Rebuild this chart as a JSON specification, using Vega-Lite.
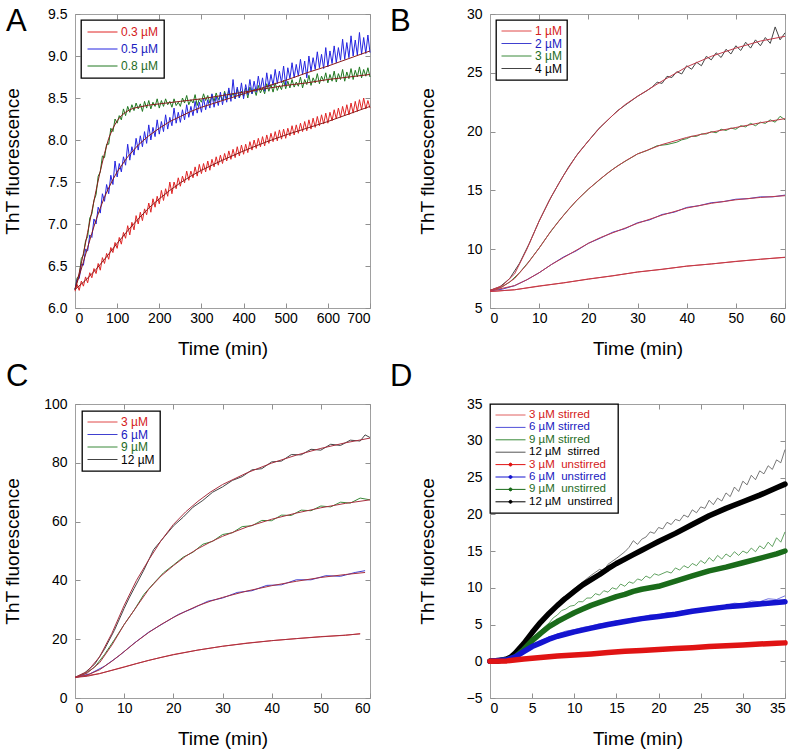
{
"$schema":"https://vega.github.io/schema/vega-lite/v6.json",
"background":"white",
"padding":{"left":2,"top":5,"right":5,"bottom":2},
"columns":2,
"spacing":{"row":1,"column":16},
"datasets":{
"a":[
{"t":0,"v":6.22,"s":"g"},{"t":5,"v":6.36,"s":"g"},{"t":10,"v":6.38,"s":"g"},{"t":15,"v":6.59,"s":"g"},{"t":20,"v":6.63,"s":"g"},{"t":25,"v":6.8,"s":"g"},{"t":30,"v":6.85,"s":"g"},{"t":35,"v":7.07,"s":"g"},{"t":40,"v":7.12,"s":"g"},{"t":45,"v":7.28,"s":"g"},{"t":50,"v":7.35,"s":"g"},{"t":55,"v":7.57,"s":"g"},{"t":60,"v":7.62,"s":"g"},{"t":65,"v":7.81,"s":"g"},{"t":70,"v":7.79,"s":"g"},{"t":75,"v":7.95,"s":"g"},{"t":80,"v":7.95,"s":"g"},{"t":85,"v":8.14,"s":"g"},{"t":90,"v":8.1,"s":"g"},{"t":95,"v":8.25,"s":"g"},{"t":100,"v":8.2,"s":"g"},{"t":105,"v":8.29,"s":"g"},{"t":110,"v":8.24,"s":"g"},{"t":115,"v":8.37,"s":"g"},{"t":120,"v":8.29,"s":"g"},{"t":125,"v":8.4,"s":"g"},{"t":130,"v":8.33,"s":"g"},{"t":135,"v":8.42,"s":"g"},{"t":140,"v":8.35,"s":"g"},{"t":145,"v":8.44,"s":"g"},{"t":150,"v":8.37,"s":"g"},{"t":155,"v":8.43,"s":"g"},{"t":160,"v":8.34,"s":"g"},{"t":165,"v":8.46,"s":"g"},{"t":170,"v":8.38,"s":"g"},{"t":175,"v":8.47,"s":"g"},{"t":180,"v":8.37,"s":"g"},{"t":185,"v":8.45,"s":"g"},{"t":190,"v":8.4,"s":"g"},{"t":195,"v":8.49,"s":"g"},{"t":200,"v":8.38,"s":"g"},{"t":205,"v":8.47,"s":"g"},{"t":210,"v":8.4,"s":"g"},{"t":215,"v":8.49,"s":"g"},{"t":220,"v":8.42,"s":"g"},{"t":225,"v":8.46,"s":"g"},{"t":230,"v":8.39,"s":"g"},{"t":235,"v":8.49,"s":"g"},{"t":240,"v":8.41,"s":"g"},{"t":245,"v":8.45,"s":"g"},{"t":250,"v":8.4,"s":"g"},{"t":255,"v":8.5,"s":"g"},{"t":260,"v":8.44,"s":"g"},{"t":265,"v":8.53,"s":"g"},{"t":270,"v":8.42,"s":"g"},{"t":275,"v":8.48,"s":"g"},{"t":280,"v":8.44,"s":"g"},{"t":285,"v":8.54,"s":"g"},{"t":290,"v":8.41,"s":"g"},{"t":295,"v":8.49,"s":"g"},{"t":300,"v":8.45,"s":"g"},{"t":305,"v":8.55,"s":"g"},{"t":310,"v":8.47,"s":"g"},{"t":315,"v":8.53,"s":"g"},{"t":320,"v":8.44,"s":"g"},{"t":325,"v":8.54,"s":"g"},{"t":330,"v":8.46,"s":"g"},{"t":335,"v":8.56,"s":"g"},{"t":340,"v":8.48,"s":"g"},{"t":345,"v":8.53,"s":"g"},{"t":350,"v":8.47,"s":"g"},{"t":355,"v":8.58,"s":"g"},{"t":360,"v":8.49,"s":"g"},{"t":365,"v":8.59,"s":"g"},{"t":370,"v":8.51,"s":"g"},{"t":375,"v":8.56,"s":"g"},{"t":380,"v":8.49,"s":"g"},{"t":385,"v":8.61,"s":"g"},{"t":390,"v":8.5,"s":"g"},{"t":395,"v":8.58,"s":"g"},{"t":400,"v":8.52,"s":"g"},{"t":405,"v":8.62,"s":"g"},{"t":410,"v":8.5,"s":"g"},{"t":415,"v":8.63,"s":"g"},{"t":420,"v":8.55,"s":"g"},{"t":425,"v":8.61,"s":"g"},{"t":430,"v":8.53,"s":"g"},{"t":435,"v":8.65,"s":"g"},{"t":440,"v":8.56,"s":"g"},{"t":445,"v":8.62,"s":"g"},{"t":450,"v":8.55,"s":"g"},{"t":455,"v":8.67,"s":"g"},{"t":460,"v":8.58,"s":"g"},{"t":465,"v":8.66,"s":"g"},{"t":470,"v":8.57,"s":"g"},{"t":475,"v":8.68,"s":"g"},{"t":480,"v":8.59,"s":"g"},{"t":485,"v":8.65,"s":"g"},{"t":490,"v":8.6,"s":"g"},{"t":495,"v":8.71,"s":"g"},{"t":500,"v":8.61,"s":"g"},{"t":505,"v":8.7,"s":"g"},{"t":510,"v":8.62,"s":"g"},{"t":515,"v":8.72,"s":"g"},{"t":520,"v":8.63,"s":"g"},{"t":525,"v":8.69,"s":"g"},{"t":530,"v":8.64,"s":"g"},{"t":535,"v":8.75,"s":"g"},{"t":540,"v":8.62,"s":"g"},{"t":545,"v":8.72,"s":"g"},{"t":550,"v":8.66,"s":"g"},{"t":555,"v":8.77,"s":"g"},{"t":560,"v":8.65,"s":"g"},{"t":565,"v":8.74,"s":"g"},{"t":570,"v":8.68,"s":"g"},{"t":575,"v":8.79,"s":"g"},{"t":580,"v":8.67,"s":"g"},{"t":585,"v":8.76,"s":"g"},{"t":590,"v":8.7,"s":"g"},{"t":595,"v":8.8,"s":"g"},{"t":600,"v":8.68,"s":"g"},{"t":605,"v":8.78,"s":"g"},{"t":610,"v":8.7,"s":"g"},{"t":615,"v":8.82,"s":"g"},{"t":620,"v":8.69,"s":"g"},{"t":625,"v":8.79,"s":"g"},{"t":630,"v":8.72,"s":"g"},{"t":635,"v":8.84,"s":"g"},{"t":640,"v":8.7,"s":"g"},{"t":645,"v":8.81,"s":"g"},{"t":650,"v":8.73,"s":"g"},{"t":655,"v":8.85,"s":"g"},{"t":660,"v":8.72,"s":"g"},{"t":665,"v":8.83,"s":"g"},{"t":670,"v":8.75,"s":"g"},{"t":675,"v":8.87,"s":"g"},{"t":680,"v":8.74,"s":"g"},{"t":685,"v":8.84,"s":"g"},{"t":690,"v":8.76,"s":"g"},{"t":695,"v":8.86,"s":"g"},{"t":700,"v":8.75,"s":"g"},
{"t":0,"v":6.22,"s":"b"},{"t":5,"v":6.34,"s":"b"},{"t":10,"v":6.35,"s":"b"},{"t":15,"v":6.52,"s":"b"},{"t":20,"v":6.51,"s":"b"},{"t":25,"v":6.7,"s":"b"},{"t":30,"v":6.68,"s":"b"},{"t":35,"v":6.87,"s":"b"},{"t":40,"v":6.84,"s":"b"},{"t":45,"v":7.06,"s":"b"},{"t":50,"v":7.0,"s":"b"},{"t":55,"v":7.2,"s":"b"},{"t":60,"v":7.13,"s":"b"},{"t":65,"v":7.36,"s":"b"},{"t":70,"v":7.27,"s":"b"},{"t":75,"v":7.47,"s":"b"},{"t":80,"v":7.36,"s":"b"},{"t":85,"v":7.58,"s":"b"},{"t":90,"v":7.47,"s":"b"},{"t":95,"v":7.75,"s":"b"},{"t":100,"v":7.56,"s":"b"},{"t":105,"v":7.72,"s":"b"},{"t":110,"v":7.62,"s":"b"},{"t":115,"v":7.8,"s":"b"},{"t":120,"v":7.7,"s":"b"},{"t":125,"v":7.95,"s":"b"},{"t":130,"v":7.76,"s":"b"},{"t":135,"v":7.92,"s":"b"},{"t":140,"v":7.82,"s":"b"},{"t":145,"v":8.02,"s":"b"},{"t":150,"v":7.88,"s":"b"},{"t":155,"v":8.05,"s":"b"},{"t":160,"v":7.92,"s":"b"},{"t":165,"v":8.1,"s":"b"},{"t":170,"v":7.96,"s":"b"},{"t":175,"v":8.18,"s":"b"},{"t":180,"v":8.0,"s":"b"},{"t":185,"v":8.15,"s":"b"},{"t":190,"v":8.04,"s":"b"},{"t":195,"v":8.24,"s":"b"},{"t":200,"v":8.07,"s":"b"},{"t":205,"v":8.22,"s":"b"},{"t":210,"v":8.1,"s":"b"},{"t":215,"v":8.3,"s":"b"},{"t":220,"v":8.13,"s":"b"},{"t":225,"v":8.27,"s":"b"},{"t":230,"v":8.17,"s":"b"},{"t":235,"v":8.38,"s":"b"},{"t":240,"v":8.2,"s":"b"},{"t":245,"v":8.33,"s":"b"},{"t":250,"v":8.21,"s":"b"},{"t":255,"v":8.36,"s":"b"},{"t":260,"v":8.24,"s":"b"},{"t":265,"v":8.42,"s":"b"},{"t":270,"v":8.27,"s":"b"},{"t":275,"v":8.4,"s":"b"},{"t":280,"v":8.29,"s":"b"},{"t":285,"v":8.46,"s":"b"},{"t":290,"v":8.32,"s":"b"},{"t":295,"v":8.45,"s":"b"},{"t":300,"v":8.33,"s":"b"},{"t":305,"v":8.5,"s":"b"},{"t":310,"v":8.36,"s":"b"},{"t":315,"v":8.48,"s":"b"},{"t":320,"v":8.38,"s":"b"},{"t":325,"v":8.55,"s":"b"},{"t":330,"v":8.39,"s":"b"},{"t":335,"v":8.52,"s":"b"},{"t":340,"v":8.41,"s":"b"},{"t":345,"v":8.57,"s":"b"},{"t":350,"v":8.42,"s":"b"},{"t":355,"v":8.56,"s":"b"},{"t":360,"v":8.45,"s":"b"},{"t":365,"v":8.62,"s":"b"},{"t":370,"v":8.46,"s":"b"},{"t":375,"v":8.72,"s":"b"},{"t":380,"v":8.49,"s":"b"},{"t":385,"v":8.63,"s":"b"},{"t":390,"v":8.5,"s":"b"},{"t":395,"v":8.68,"s":"b"},{"t":400,"v":8.49,"s":"b"},{"t":405,"v":8.66,"s":"b"},{"t":410,"v":8.54,"s":"b"},{"t":415,"v":8.72,"s":"b"},{"t":420,"v":8.55,"s":"b"},{"t":425,"v":8.7,"s":"b"},{"t":430,"v":8.57,"s":"b"},{"t":435,"v":8.76,"s":"b"},{"t":440,"v":8.6,"s":"b"},{"t":445,"v":8.74,"s":"b"},{"t":450,"v":8.58,"s":"b"},{"t":455,"v":8.8,"s":"b"},{"t":460,"v":8.63,"s":"b"},{"t":465,"v":8.78,"s":"b"},{"t":470,"v":8.65,"s":"b"},{"t":475,"v":8.84,"s":"b"},{"t":480,"v":8.67,"s":"b"},{"t":485,"v":8.82,"s":"b"},{"t":490,"v":8.68,"s":"b"},{"t":495,"v":8.88,"s":"b"},{"t":500,"v":8.65,"s":"b"},{"t":505,"v":8.86,"s":"b"},{"t":510,"v":8.73,"s":"b"},{"t":515,"v":8.92,"s":"b"},{"t":520,"v":8.74,"s":"b"},{"t":525,"v":8.9,"s":"b"},{"t":530,"v":8.76,"s":"b"},{"t":535,"v":8.96,"s":"b"},{"t":540,"v":8.78,"s":"b"},{"t":545,"v":8.94,"s":"b"},{"t":550,"v":8.74,"s":"b"},{"t":555,"v":9.0,"s":"b"},{"t":560,"v":8.82,"s":"b"},{"t":565,"v":8.98,"s":"b"},{"t":570,"v":8.84,"s":"b"},{"t":575,"v":9.05,"s":"b"},{"t":580,"v":8.86,"s":"b"},{"t":585,"v":9.02,"s":"b"},{"t":590,"v":8.85,"s":"b"},{"t":595,"v":9.1,"s":"b"},{"t":600,"v":8.87,"s":"b"},{"t":605,"v":9.06,"s":"b"},{"t":610,"v":8.91,"s":"b"},{"t":615,"v":9.12,"s":"b"},{"t":620,"v":8.92,"s":"b"},{"t":625,"v":9.1,"s":"b"},{"t":630,"v":8.95,"s":"b"},{"t":635,"v":9.2,"s":"b"},{"t":640,"v":8.96,"s":"b"},{"t":645,"v":9.16,"s":"b"},{"t":650,"v":8.98,"s":"b"},{"t":655,"v":9.24,"s":"b"},{"t":660,"v":9.0,"s":"b"},{"t":665,"v":9.19,"s":"b"},{"t":670,"v":9.01,"s":"b"},{"t":675,"v":9.28,"s":"b"},{"t":680,"v":9.02,"s":"b"},{"t":685,"v":9.22,"s":"b"},{"t":690,"v":9.03,"s":"b"},{"t":695,"v":9.25,"s":"b"},{"t":700,"v":9.04,"s":"b"},
{"t":0,"v":6.2,"s":"r"},{"t":5,"v":6.28,"s":"r"},{"t":10,"v":6.21,"s":"r"},{"t":15,"v":6.32,"s":"r"},{"t":20,"v":6.26,"s":"r"},{"t":25,"v":6.37,"s":"r"},{"t":30,"v":6.3,"s":"r"},{"t":35,"v":6.42,"s":"r"},{"t":40,"v":6.36,"s":"r"},{"t":45,"v":6.47,"s":"r"},{"t":50,"v":6.41,"s":"r"},{"t":55,"v":6.53,"s":"r"},{"t":60,"v":6.45,"s":"r"},{"t":65,"v":6.6,"s":"r"},{"t":70,"v":6.53,"s":"r"},{"t":75,"v":6.65,"s":"r"},{"t":80,"v":6.58,"s":"r"},{"t":85,"v":6.72,"s":"r"},{"t":90,"v":6.66,"s":"r"},{"t":95,"v":6.78,"s":"r"},{"t":100,"v":6.71,"s":"r"},{"t":105,"v":6.84,"s":"r"},{"t":110,"v":6.76,"s":"r"},{"t":115,"v":6.9,"s":"r"},{"t":120,"v":6.83,"s":"r"},{"t":125,"v":6.98,"s":"r"},{"t":130,"v":6.87,"s":"r"},{"t":135,"v":7.02,"s":"r"},{"t":140,"v":6.93,"s":"r"},{"t":145,"v":7.1,"s":"r"},{"t":150,"v":7.0,"s":"r"},{"t":155,"v":7.14,"s":"r"},{"t":160,"v":7.04,"s":"r"},{"t":165,"v":7.18,"s":"r"},{"t":170,"v":7.11,"s":"r"},{"t":175,"v":7.25,"s":"r"},{"t":180,"v":7.14,"s":"r"},{"t":185,"v":7.3,"s":"r"},{"t":190,"v":7.2,"s":"r"},{"t":195,"v":7.33,"s":"r"},{"t":200,"v":7.24,"s":"r"},{"t":205,"v":7.4,"s":"r"},{"t":210,"v":7.28,"s":"r"},{"t":215,"v":7.42,"s":"r"},{"t":220,"v":7.33,"s":"r"},{"t":225,"v":7.5,"s":"r"},{"t":230,"v":7.36,"s":"r"},{"t":235,"v":7.5,"s":"r"},{"t":240,"v":7.42,"s":"r"},{"t":245,"v":7.55,"s":"r"},{"t":250,"v":7.45,"s":"r"},{"t":255,"v":7.57,"s":"r"},{"t":260,"v":7.49,"s":"r"},{"t":265,"v":7.63,"s":"r"},{"t":270,"v":7.52,"s":"r"},{"t":275,"v":7.63,"s":"r"},{"t":280,"v":7.55,"s":"r"},{"t":285,"v":7.68,"s":"r"},{"t":290,"v":7.57,"s":"r"},{"t":295,"v":7.71,"s":"r"},{"t":300,"v":7.6,"s":"r"},{"t":305,"v":7.72,"s":"r"},{"t":310,"v":7.62,"s":"r"},{"t":315,"v":7.75,"s":"r"},{"t":320,"v":7.64,"s":"r"},{"t":325,"v":7.77,"s":"r"},{"t":330,"v":7.68,"s":"r"},{"t":335,"v":7.8,"s":"r"},{"t":340,"v":7.7,"s":"r"},{"t":345,"v":7.82,"s":"r"},{"t":350,"v":7.72,"s":"r"},{"t":355,"v":7.84,"s":"r"},{"t":360,"v":7.75,"s":"r"},{"t":365,"v":7.87,"s":"r"},{"t":370,"v":7.77,"s":"r"},{"t":375,"v":7.89,"s":"r"},{"t":380,"v":7.79,"s":"r"},{"t":385,"v":7.92,"s":"r"},{"t":390,"v":7.81,"s":"r"},{"t":395,"v":7.94,"s":"r"},{"t":400,"v":7.83,"s":"r"},{"t":405,"v":7.95,"s":"r"},{"t":410,"v":7.85,"s":"r"},{"t":415,"v":7.98,"s":"r"},{"t":420,"v":7.88,"s":"r"},{"t":425,"v":8.0,"s":"r"},{"t":430,"v":7.9,"s":"r"},{"t":435,"v":8.02,"s":"r"},{"t":440,"v":7.92,"s":"r"},{"t":445,"v":8.04,"s":"r"},{"t":450,"v":7.93,"s":"r"},{"t":455,"v":8.06,"s":"r"},{"t":460,"v":7.96,"s":"r"},{"t":465,"v":8.08,"s":"r"},{"t":470,"v":7.98,"s":"r"},{"t":475,"v":8.1,"s":"r"},{"t":480,"v":7.99,"s":"r"},{"t":485,"v":8.12,"s":"r"},{"t":490,"v":8.01,"s":"r"},{"t":495,"v":8.13,"s":"r"},{"t":500,"v":8.02,"s":"r"},{"t":505,"v":8.14,"s":"r"},{"t":510,"v":8.05,"s":"r"},{"t":515,"v":8.17,"s":"r"},{"t":520,"v":8.06,"s":"r"},{"t":525,"v":8.18,"s":"r"},{"t":530,"v":8.08,"s":"r"},{"t":535,"v":8.2,"s":"r"},{"t":540,"v":8.1,"s":"r"},{"t":545,"v":8.22,"s":"r"},{"t":550,"v":8.11,"s":"r"},{"t":555,"v":8.24,"s":"r"},{"t":560,"v":8.13,"s":"r"},{"t":565,"v":8.26,"s":"r"},{"t":570,"v":8.15,"s":"r"},{"t":575,"v":8.28,"s":"r"},{"t":580,"v":8.17,"s":"r"},{"t":585,"v":8.3,"s":"r"},{"t":590,"v":8.19,"s":"r"},{"t":595,"v":8.32,"s":"r"},{"t":600,"v":8.2,"s":"r"},{"t":605,"v":8.33,"s":"r"},{"t":610,"v":8.23,"s":"r"},{"t":615,"v":8.36,"s":"r"},{"t":620,"v":8.25,"s":"r"},{"t":625,"v":8.38,"s":"r"},{"t":630,"v":8.27,"s":"r"},{"t":635,"v":8.4,"s":"r"},{"t":640,"v":8.29,"s":"r"},{"t":645,"v":8.42,"s":"r"},{"t":650,"v":8.3,"s":"r"},{"t":655,"v":8.44,"s":"r"},{"t":660,"v":8.32,"s":"r"},{"t":665,"v":8.46,"s":"r"},{"t":670,"v":8.34,"s":"r"},{"t":675,"v":8.48,"s":"r"},{"t":680,"v":8.36,"s":"r"},{"t":685,"v":8.5,"s":"r"},{"t":690,"v":8.37,"s":"r"},{"t":695,"v":8.47,"s":"r"},{"t":700,"v":8.38,"s":"r"}
],
"afit":[
{"t":0,"v":6.22,"s":"g"},{"t":10,"v":6.42,"s":"g"},{"t":20,"v":6.65,"s":"g"},{"t":30,"v":6.9,"s":"g"},{"t":40,"v":7.15,"s":"g"},{"t":50,"v":7.4,"s":"g"},{"t":60,"v":7.63,"s":"g"},{"t":70,"v":7.84,"s":"g"},{"t":80,"v":8.02,"s":"g"},{"t":90,"v":8.14,"s":"g"},{"t":100,"v":8.23,"s":"g"},{"t":110,"v":8.29,"s":"g"},{"t":120,"v":8.33,"s":"g"},{"t":130,"v":8.36,"s":"g"},{"t":140,"v":8.38,"s":"g"},{"t":150,"v":8.39,"s":"g"},{"t":175,"v":8.415,"s":"g"},{"t":200,"v":8.43,"s":"g"},{"t":250,"v":8.46,"s":"g"},{"t":300,"v":8.49,"s":"g"},{"t":350,"v":8.53,"s":"g"},{"t":400,"v":8.57,"s":"g"},{"t":450,"v":8.61,"s":"g"},{"t":500,"v":8.65,"s":"g"},{"t":550,"v":8.68,"s":"g"},{"t":600,"v":8.72,"s":"g"},{"t":650,"v":8.75,"s":"g"},{"t":700,"v":8.78,"s":"g"},
{"t":0,"v":6.22,"s":"b"},{"t":10,"v":6.38,"s":"b"},{"t":20,"v":6.55,"s":"b"},{"t":30,"v":6.72,"s":"b"},{"t":40,"v":6.89,"s":"b"},{"t":50,"v":7.05,"s":"b"},{"t":60,"v":7.19,"s":"b"},{"t":70,"v":7.32,"s":"b"},{"t":80,"v":7.43,"s":"b"},{"t":90,"v":7.53,"s":"b"},{"t":100,"v":7.62,"s":"b"},{"t":125,"v":7.8,"s":"b"},{"t":150,"v":7.94,"s":"b"},{"t":175,"v":8.05,"s":"b"},{"t":200,"v":8.14,"s":"b"},{"t":225,"v":8.22,"s":"b"},{"t":250,"v":8.28,"s":"b"},{"t":275,"v":8.34,"s":"b"},{"t":300,"v":8.39,"s":"b"},{"t":350,"v":8.47,"s":"b"},{"t":400,"v":8.55,"s":"b"},{"t":450,"v":8.63,"s":"b"},{"t":500,"v":8.71,"s":"b"},{"t":550,"v":8.8,"s":"b"},{"t":600,"v":8.88,"s":"b"},{"t":650,"v":8.97,"s":"b"},{"t":700,"v":9.06,"s":"b"},
{"t":0,"v":6.22,"s":"r"},{"t":25,"v":6.33,"s":"r"},{"t":50,"v":6.46,"s":"r"},{"t":75,"v":6.61,"s":"r"},{"t":100,"v":6.77,"s":"r"},{"t":125,"v":6.92,"s":"r"},{"t":150,"v":7.06,"s":"r"},{"t":175,"v":7.19,"s":"r"},{"t":200,"v":7.3,"s":"r"},{"t":225,"v":7.4,"s":"r"},{"t":250,"v":7.49,"s":"r"},{"t":275,"v":7.57,"s":"r"},{"t":300,"v":7.64,"s":"r"},{"t":350,"v":7.76,"s":"r"},{"t":400,"v":7.87,"s":"r"},{"t":450,"v":7.97,"s":"r"},{"t":500,"v":8.06,"s":"r"},{"t":550,"v":8.14,"s":"r"},{"t":600,"v":8.22,"s":"r"},{"t":650,"v":8.31,"s":"r"},{"t":700,"v":8.4,"s":"r"}
],
"b":[
{"t":0,"v":6.5,"s":"4 µM"},{"t":2,"v":6.8,"s":"4 µM"},{"t":4,"v":7.5,"s":"4 µM"},{"t":6,"v":8.8,"s":"4 µM"},{"t":8,"v":10.5,"s":"4 µM"},{"t":10,"v":12.4,"s":"4 µM"},{"t":12,"v":14.1,"s":"4 µM"},{"t":14,"v":15.6,"s":"4 µM"},{"t":16,"v":17.0,"s":"4 µM"},{"t":18,"v":18.2,"s":"4 µM"},{"t":20,"v":19.2,"s":"4 µM"},{"t":22,"v":20.2,"s":"4 µM"},{"t":24,"v":21.0,"s":"4 µM"},{"t":26,"v":21.8,"s":"4 µM"},{"t":28,"v":22.4,"s":"4 µM"},{"t":30,"v":23.0,"s":"4 µM"},{"t":32,"v":23.5,"s":"4 µM"},{"t":33,"v":23.8,"s":"4 µM"},{"t":34,"v":24.2,"s":"4 µM"},{"t":35,"v":24.1,"s":"4 µM"},{"t":36,"v":24.7,"s":"4 µM"},{"t":37,"v":24.6,"s":"4 µM"},{"t":38,"v":25.1,"s":"4 µM"},{"t":39,"v":24.9,"s":"4 µM"},{"t":40,"v":25.6,"s":"4 µM"},{"t":41,"v":25.3,"s":"4 µM"},{"t":42,"v":25.9,"s":"4 µM"},{"t":43,"v":25.6,"s":"4 µM"},{"t":44,"v":26.4,"s":"4 µM"},{"t":45,"v":26.1,"s":"4 µM"},{"t":46,"v":26.7,"s":"4 µM"},{"t":47,"v":26.3,"s":"4 µM"},{"t":48,"v":27.0,"s":"4 µM"},{"t":49,"v":26.6,"s":"4 µM"},{"t":50,"v":27.3,"s":"4 µM"},{"t":51,"v":26.9,"s":"4 µM"},{"t":52,"v":27.6,"s":"4 µM"},{"t":53,"v":27.1,"s":"4 µM"},{"t":54,"v":27.8,"s":"4 µM"},{"t":55,"v":27.3,"s":"4 µM"},{"t":56,"v":28.0,"s":"4 µM"},{"t":57,"v":27.5,"s":"4 µM"},{"t":58,"v":28.9,"s":"4 µM"},{"t":59,"v":27.8,"s":"4 µM"},{"t":60,"v":28.4,"s":"4 µM"},
{"t":0,"v":6.5,"s":"3 µM"},{"t":2,"v":6.7,"s":"3 µM"},{"t":4,"v":7.2,"s":"3 µM"},{"t":6,"v":8.0,"s":"3 µM"},{"t":8,"v":9.0,"s":"3 µM"},{"t":10,"v":10.1,"s":"3 µM"},{"t":12,"v":11.3,"s":"3 µM"},{"t":14,"v":12.4,"s":"3 µM"},{"t":16,"v":13.4,"s":"3 µM"},{"t":18,"v":14.3,"s":"3 µM"},{"t":20,"v":15.1,"s":"3 µM"},{"t":22,"v":15.8,"s":"3 µM"},{"t":24,"v":16.5,"s":"3 µM"},{"t":26,"v":17.1,"s":"3 µM"},{"t":28,"v":17.6,"s":"3 µM"},{"t":30,"v":18.1,"s":"3 µM"},{"t":32,"v":18.4,"s":"3 µM"},{"t":34,"v":18.8,"s":"3 µM"},{"t":36,"v":18.9,"s":"3 µM"},{"t":37,"v":19.0,"s":"3 µM"},{"t":38,"v":19.1,"s":"3 µM"},{"t":39,"v":19.3,"s":"3 µM"},{"t":40,"v":19.4,"s":"3 µM"},{"t":41,"v":19.6,"s":"3 µM"},{"t":42,"v":19.6,"s":"3 µM"},{"t":43,"v":19.8,"s":"3 µM"},{"t":44,"v":19.8,"s":"3 µM"},{"t":45,"v":20.0,"s":"3 µM"},{"t":46,"v":19.9,"s":"3 µM"},{"t":47,"v":20.2,"s":"3 µM"},{"t":48,"v":20.1,"s":"3 µM"},{"t":49,"v":20.3,"s":"3 µM"},{"t":50,"v":20.2,"s":"3 µM"},{"t":51,"v":20.5,"s":"3 µM"},{"t":52,"v":20.4,"s":"3 µM"},{"t":53,"v":20.7,"s":"3 µM"},{"t":54,"v":20.5,"s":"3 µM"},{"t":55,"v":20.8,"s":"3 µM"},{"t":56,"v":20.7,"s":"3 µM"},{"t":57,"v":21.0,"s":"3 µM"},{"t":58,"v":20.8,"s":"3 µM"},{"t":59,"v":21.3,"s":"3 µM"},{"t":60,"v":21.0,"s":"3 µM"},
{"t":0,"v":6.45,"s":"2 µM"},{"t":2.5,"v":6.6,"s":"2 µM"},{"t":5,"v":6.9,"s":"2 µM"},{"t":7.5,"v":7.4,"s":"2 µM"},{"t":10,"v":8.0,"s":"2 µM"},{"t":12.5,"v":8.7,"s":"2 µM"},{"t":15,"v":9.35,"s":"2 µM"},{"t":17.5,"v":9.85,"s":"2 µM"},{"t":20,"v":10.5,"s":"2 µM"},{"t":22.5,"v":10.95,"s":"2 µM"},{"t":25,"v":11.45,"s":"2 µM"},{"t":27.5,"v":11.75,"s":"2 µM"},{"t":30,"v":12.25,"s":"2 µM"},{"t":32.5,"v":12.5,"s":"2 µM"},{"t":35,"v":12.95,"s":"2 µM"},{"t":37.5,"v":13.15,"s":"2 µM"},{"t":40,"v":13.55,"s":"2 µM"},{"t":42.5,"v":13.7,"s":"2 µM"},{"t":45,"v":13.95,"s":"2 µM"},{"t":47.5,"v":14.05,"s":"2 µM"},{"t":50,"v":14.25,"s":"2 µM"},{"t":52.5,"v":14.3,"s":"2 µM"},{"t":55,"v":14.45,"s":"2 µM"},{"t":57.5,"v":14.45,"s":"2 µM"},{"t":60,"v":14.6,"s":"2 µM"},
{"t":0,"v":6.4,"s":"1 µM"},{"t":5,"v":6.55,"s":"1 µM"},{"t":10,"v":6.88,"s":"1 µM"},{"t":15,"v":7.13,"s":"1 µM"},{"t":20,"v":7.47,"s":"1 µM"},{"t":25,"v":7.73,"s":"1 µM"},{"t":30,"v":8.07,"s":"1 µM"},{"t":35,"v":8.28,"s":"1 µM"},{"t":40,"v":8.57,"s":"1 µM"},{"t":45,"v":8.74,"s":"1 µM"},{"t":50,"v":8.97,"s":"1 µM"},{"t":55,"v":9.14,"s":"1 µM"},{"t":60,"v":9.32,"s":"1 µM"}
],
"bfit":[
{"t":0,"v":6.5,"s":"4"},{"t":2.5,"v":6.9,"s":"4"},{"t":5,"v":7.9,"s":"4"},{"t":7.5,"v":10.0,"s":"4"},{"t":10,"v":12.4,"s":"4"},{"t":12.5,"v":14.5,"s":"4"},{"t":15,"v":16.3,"s":"4"},{"t":17.5,"v":17.9,"s":"4"},{"t":20,"v":19.2,"s":"4"},{"t":22.5,"v":20.4,"s":"4"},{"t":25,"v":21.4,"s":"4"},{"t":27.5,"v":22.3,"s":"4"},{"t":30,"v":23.0,"s":"4"},{"t":35,"v":24.3,"s":"4"},{"t":40,"v":25.5,"s":"4"},{"t":45,"v":26.4,"s":"4"},{"t":50,"v":27.1,"s":"4"},{"t":55,"v":27.7,"s":"4"},{"t":60,"v":28.1,"s":"4"},
{"t":0,"v":6.5,"s":"3"},{"t":2.5,"v":6.8,"s":"3"},{"t":5,"v":7.5,"s":"3"},{"t":7.5,"v":8.7,"s":"3"},{"t":10,"v":10.1,"s":"3"},{"t":12.5,"v":11.6,"s":"3"},{"t":15,"v":12.9,"s":"3"},{"t":17.5,"v":14.1,"s":"3"},{"t":20,"v":15.1,"s":"3"},{"t":22.5,"v":16.0,"s":"3"},{"t":25,"v":16.8,"s":"3"},{"t":27.5,"v":17.5,"s":"3"},{"t":30,"v":18.1,"s":"3"},{"t":35,"v":18.9,"s":"3"},{"t":40,"v":19.5,"s":"3"},{"t":45,"v":19.95,"s":"3"},{"t":50,"v":20.35,"s":"3"},{"t":55,"v":20.75,"s":"3"},{"t":60,"v":21.1,"s":"3"},
{"t":0,"v":6.45,"s":"2"},{"t":5,"v":6.9,"s":"2"},{"t":7.5,"v":7.4,"s":"2"},{"t":10,"v":8.0,"s":"2"},{"t":12.5,"v":8.7,"s":"2"},{"t":15,"v":9.3,"s":"2"},{"t":17.5,"v":9.9,"s":"2"},{"t":20,"v":10.5,"s":"2"},{"t":22.5,"v":11.0,"s":"2"},{"t":25,"v":11.4,"s":"2"},{"t":27.5,"v":11.8,"s":"2"},{"t":30,"v":12.2,"s":"2"},{"t":35,"v":12.9,"s":"2"},{"t":40,"v":13.5,"s":"2"},{"t":45,"v":13.9,"s":"2"},{"t":50,"v":14.2,"s":"2"},{"t":55,"v":14.4,"s":"2"},{"t":60,"v":14.55,"s":"2"},
{"t":0,"v":6.4,"s":"1"},{"t":5,"v":6.55,"s":"1"},{"t":10,"v":6.85,"s":"1"},{"t":15,"v":7.15,"s":"1"},{"t":20,"v":7.45,"s":"1"},{"t":25,"v":7.75,"s":"1"},{"t":30,"v":8.05,"s":"1"},{"t":35,"v":8.3,"s":"1"},{"t":40,"v":8.55,"s":"1"},{"t":45,"v":8.75,"s":"1"},{"t":50,"v":8.95,"s":"1"},{"t":55,"v":9.15,"s":"1"},{"t":60,"v":9.3,"s":"1"}
],
"c":[
{"t":0,"v":7,"s":"12 µM"},{"t":2,"v":8.6,"s":"12 µM"},{"t":4,"v":11.5,"s":"12 µM"},{"t":6,"v":16.6,"s":"12 µM"},{"t":8,"v":23.0,"s":"12 µM"},{"t":10,"v":30.5,"s":"12 µM"},{"t":11,"v":34,"s":"12 µM"},{"t":12,"v":37.2,"s":"12 µM"},{"t":14,"v":43.5,"s":"12 µM"},{"t":16,"v":50.5,"s":"12 µM"},{"t":18,"v":54.5,"s":"12 µM"},{"t":20,"v":58.5,"s":"12 µM"},{"t":22,"v":61.5,"s":"12 µM"},{"t":24,"v":64.9,"s":"12 µM"},{"t":26,"v":67.2,"s":"12 µM"},{"t":28,"v":70.0,"s":"12 µM"},{"t":30,"v":71.8,"s":"12 µM"},{"t":32,"v":74.0,"s":"12 µM"},{"t":34,"v":75.3,"s":"12 µM"},{"t":36,"v":77.6,"s":"12 µM"},{"t":38,"v":78.0,"s":"12 µM"},{"t":40,"v":80.3,"s":"12 µM"},{"t":42,"v":80.6,"s":"12 µM"},{"t":44,"v":82.8,"s":"12 µM"},{"t":46,"v":82.7,"s":"12 µM"},{"t":48,"v":84.6,"s":"12 µM"},{"t":50,"v":84.3,"s":"12 µM"},{"t":52,"v":86.3,"s":"12 µM"},{"t":54,"v":85.9,"s":"12 µM"},{"t":56,"v":87.7,"s":"12 µM"},{"t":58,"v":87.4,"s":"12 µM"},{"t":59,"v":89.5,"s":"12 µM"},{"t":60,"v":88.6,"s":"12 µM"},
{"t":0,"v":7,"s":"9 µM"},{"t":2,"v":8.2,"s":"9 µM"},{"t":4,"v":10.5,"s":"9 µM"},{"t":6,"v":14.8,"s":"9 µM"},{"t":8,"v":19.8,"s":"9 µM"},{"t":10,"v":25.0,"s":"9 µM"},{"t":12,"v":29.8,"s":"9 µM"},{"t":14,"v":35.2,"s":"9 µM"},{"t":16,"v":39.0,"s":"9 µM"},{"t":18,"v":42.6,"s":"9 µM"},{"t":20,"v":45.2,"s":"9 µM"},{"t":22,"v":47.9,"s":"9 µM"},{"t":24,"v":49.6,"s":"9 µM"},{"t":26,"v":52.3,"s":"9 µM"},{"t":28,"v":53.3,"s":"9 µM"},{"t":30,"v":55.6,"s":"9 µM"},{"t":32,"v":56.2,"s":"9 µM"},{"t":34,"v":58.3,"s":"9 µM"},{"t":36,"v":58.6,"s":"9 µM"},{"t":38,"v":60.4,"s":"9 µM"},{"t":40,"v":60.3,"s":"9 µM"},{"t":42,"v":62.2,"s":"9 µM"},{"t":44,"v":62.1,"s":"9 µM"},{"t":46,"v":63.9,"s":"9 µM"},{"t":48,"v":63.7,"s":"9 µM"},{"t":50,"v":65.3,"s":"9 µM"},{"t":52,"v":65.0,"s":"9 µM"},{"t":54,"v":66.6,"s":"9 µM"},{"t":56,"v":66.3,"s":"9 µM"},{"t":58,"v":68.0,"s":"9 µM"},{"t":60,"v":67.4,"s":"9 µM"},
{"t":0,"v":7,"s":"6 µM"},{"t":3,"v":8.2,"s":"6 µM"},{"t":6,"v":10.8,"s":"6 µM"},{"t":9,"v":14.4,"s":"6 µM"},{"t":12,"v":18.6,"s":"6 µM"},{"t":15,"v":22.4,"s":"6 µM"},{"t":18,"v":25.4,"s":"6 µM"},{"t":21,"v":28.4,"s":"6 µM"},{"t":24,"v":30.5,"s":"6 µM"},{"t":27,"v":32.9,"s":"6 µM"},{"t":30,"v":34.0,"s":"6 µM"},{"t":33,"v":35.9,"s":"6 µM"},{"t":36,"v":36.5,"s":"6 µM"},{"t":39,"v":38.3,"s":"6 µM"},{"t":42,"v":38.5,"s":"6 µM"},{"t":45,"v":40.2,"s":"6 µM"},{"t":48,"v":40.2,"s":"6 µM"},{"t":51,"v":41.6,"s":"6 µM"},{"t":54,"v":41.4,"s":"6 µM"},{"t":57,"v":42.7,"s":"6 µM"},{"t":59,"v":43.3,"s":"6 µM"},
{"t":0,"v":7,"s":"3 µM"},{"t":5,"v":8.3,"s":"3 µM"},{"t":10,"v":10.6,"s":"3 µM"},{"t":15,"v":12.8,"s":"3 µM"},{"t":20,"v":14.8,"s":"3 µM"},{"t":25,"v":16.3,"s":"3 µM"},{"t":30,"v":17.6,"s":"3 µM"},{"t":35,"v":18.7,"s":"3 µM"},{"t":40,"v":19.5,"s":"3 µM"},{"t":45,"v":20.2,"s":"3 µM"},{"t":50,"v":20.9,"s":"3 µM"},{"t":55,"v":21.3,"s":"3 µM"},{"t":58,"v":21.9,"s":"3 µM"}
],
"cfit":[
{"t":0,"v":7,"s":"12"},{"t":2.5,"v":9.0,"s":"12"},{"t":5,"v":14.0,"s":"12"},{"t":7.5,"v":22.0,"s":"12"},{"t":10,"v":31.5,"s":"12"},{"t":12.5,"v":40.0,"s":"12"},{"t":15,"v":47.0,"s":"12"},{"t":17.5,"v":53.5,"s":"12"},{"t":20,"v":59.0,"s":"12"},{"t":22.5,"v":63.3,"s":"12"},{"t":25,"v":66.9,"s":"12"},{"t":27.5,"v":70.0,"s":"12"},{"t":30,"v":72.6,"s":"12"},{"t":35,"v":76.6,"s":"12"},{"t":40,"v":79.9,"s":"12"},{"t":45,"v":82.6,"s":"12"},{"t":50,"v":84.9,"s":"12"},{"t":55,"v":86.8,"s":"12"},{"t":60,"v":88.4,"s":"12"},
{"t":0,"v":7,"s":"9"},{"t":2.5,"v":8.5,"s":"9"},{"t":5,"v":12.0,"s":"9"},{"t":7.5,"v":18.0,"s":"9"},{"t":10,"v":25.0,"s":"9"},{"t":12.5,"v":31.0,"s":"9"},{"t":15,"v":37.0,"s":"9"},{"t":17.5,"v":41.5,"s":"9"},{"t":20,"v":45.0,"s":"9"},{"t":22.5,"v":48.2,"s":"9"},{"t":25,"v":50.8,"s":"9"},{"t":27.5,"v":53.0,"s":"9"},{"t":30,"v":55.0,"s":"9"},{"t":35,"v":58.2,"s":"9"},{"t":40,"v":60.8,"s":"9"},{"t":45,"v":62.9,"s":"9"},{"t":50,"v":64.7,"s":"9"},{"t":55,"v":66.2,"s":"9"},{"t":60,"v":67.4,"s":"9"},
{"t":0,"v":7,"s":"6"},{"t":2.5,"v":7.8,"s":"6"},{"t":5,"v":9.6,"s":"6"},{"t":7.5,"v":12.5,"s":"6"},{"t":10,"v":15.8,"s":"6"},{"t":12.5,"v":19.2,"s":"6"},{"t":15,"v":22.3,"s":"6"},{"t":17.5,"v":25.0,"s":"6"},{"t":20,"v":27.4,"s":"6"},{"t":22.5,"v":29.5,"s":"6"},{"t":25,"v":31.4,"s":"6"},{"t":27.5,"v":32.9,"s":"6"},{"t":30,"v":34.2,"s":"6"},{"t":35,"v":36.4,"s":"6"},{"t":40,"v":38.2,"s":"6"},{"t":45,"v":39.7,"s":"6"},{"t":50,"v":41.0,"s":"6"},{"t":55,"v":42.0,"s":"6"},{"t":59,"v":42.7,"s":"6"},
{"t":0,"v":7,"s":"3"},{"t":2.5,"v":7.4,"s":"3"},{"t":5,"v":8.3,"s":"3"},{"t":7.5,"v":9.4,"s":"3"},{"t":10,"v":10.5,"s":"3"},{"t":12.5,"v":11.7,"s":"3"},{"t":15,"v":12.8,"s":"3"},{"t":17.5,"v":13.8,"s":"3"},{"t":20,"v":14.7,"s":"3"},{"t":25,"v":16.3,"s":"3"},{"t":30,"v":17.6,"s":"3"},{"t":35,"v":18.6,"s":"3"},{"t":40,"v":19.5,"s":"3"},{"t":45,"v":20.2,"s":"3"},{"t":50,"v":20.8,"s":"3"},{"t":55,"v":21.4,"s":"3"},{"t":58,"v":21.8,"s":"3"}
],
"ds":[
{"t":0,"v":0,"s":"12 µM\u00a0 stirred"},{"t":1,"v":0.1,"s":"12 µM\u00a0 stirred"},{"t":2,"v":0.3,"s":"12 µM\u00a0 stirred"},{"t":3,"v":1.0,"s":"12 µM\u00a0 stirred"},{"t":4,"v":2.3,"s":"12 µM\u00a0 stirred"},{"t":5,"v":3.8,"s":"12 µM\u00a0 stirred"},{"t":6,"v":5.2,"s":"12 µM\u00a0 stirred"},{"t":7,"v":6.6,"s":"12 µM\u00a0 stirred"},{"t":8,"v":7.9,"s":"12 µM\u00a0 stirred"},{"t":8.5,"v":8.6,"s":"12 µM\u00a0 stirred"},{"t":9,"v":8.9,"s":"12 µM\u00a0 stirred"},{"t":10,"v":9.9,"s":"12 µM\u00a0 stirred"},{"t":11,"v":10.8,"s":"12 µM\u00a0 stirred"},{"t":12,"v":11.7,"s":"12 µM\u00a0 stirred"},{"t":13,"v":12.5,"s":"12 µM\u00a0 stirred"},{"t":13.5,"v":12.3,"s":"12 µM\u00a0 stirred"},{"t":14,"v":13.2,"s":"12 µM\u00a0 stirred"},{"t":15,"v":14.0,"s":"12 µM\u00a0 stirred"},{"t":16,"v":14.9,"s":"12 µM\u00a0 stirred"},{"t":16.5,"v":15.5,"s":"12 µM\u00a0 stirred"},{"t":17,"v":16.4,"s":"12 µM\u00a0 stirred"},{"t":17.5,"v":15.9,"s":"12 µM\u00a0 stirred"},{"t":18,"v":16.6,"s":"12 µM\u00a0 stirred"},{"t":18.5,"v":16.9,"s":"12 µM\u00a0 stirred"},{"t":19,"v":17.6,"s":"12 µM\u00a0 stirred"},{"t":19.5,"v":17.4,"s":"12 µM\u00a0 stirred"},{"t":20,"v":18.2,"s":"12 µM\u00a0 stirred"},{"t":20.5,"v":18.0,"s":"12 µM\u00a0 stirred"},{"t":21,"v":18.9,"s":"12 µM\u00a0 stirred"},{"t":21.5,"v":18.6,"s":"12 µM\u00a0 stirred"},{"t":22,"v":19.3,"s":"12 µM\u00a0 stirred"},{"t":22.5,"v":19.1,"s":"12 µM\u00a0 stirred"},{"t":23,"v":19.9,"s":"12 µM\u00a0 stirred"},{"t":23.5,"v":19.6,"s":"12 µM\u00a0 stirred"},{"t":24,"v":20.6,"s":"12 µM\u00a0 stirred"},{"t":24.5,"v":20.2,"s":"12 µM\u00a0 stirred"},{"t":25,"v":21.0,"s":"12 µM\u00a0 stirred"},{"t":25.5,"v":20.8,"s":"12 µM\u00a0 stirred"},{"t":26,"v":21.9,"s":"12 µM\u00a0 stirred"},{"t":26.5,"v":21.3,"s":"12 µM\u00a0 stirred"},{"t":27,"v":22.2,"s":"12 µM\u00a0 stirred"},{"t":27.5,"v":21.8,"s":"12 µM\u00a0 stirred"},{"t":28,"v":22.9,"s":"12 µM\u00a0 stirred"},{"t":28.5,"v":22.4,"s":"12 µM\u00a0 stirred"},{"t":29,"v":23.7,"s":"12 µM\u00a0 stirred"},{"t":29.5,"v":23.1,"s":"12 µM\u00a0 stirred"},{"t":30,"v":24.5,"s":"12 µM\u00a0 stirred"},{"t":30.5,"v":24.0,"s":"12 µM\u00a0 stirred"},{"t":31,"v":25.3,"s":"12 µM\u00a0 stirred"},{"t":31.5,"v":24.7,"s":"12 µM\u00a0 stirred"},{"t":32,"v":25.9,"s":"12 µM\u00a0 stirred"},{"t":32.5,"v":25.5,"s":"12 µM\u00a0 stirred"},{"t":33,"v":26.6,"s":"12 µM\u00a0 stirred"},{"t":33.5,"v":26.1,"s":"12 µM\u00a0 stirred"},{"t":34,"v":27.4,"s":"12 µM\u00a0 stirred"},{"t":34.5,"v":27.0,"s":"12 µM\u00a0 stirred"},{"t":35,"v":28.8,"s":"12 µM\u00a0 stirred"},
{"t":0,"v":0,"s":"9 µM stirred"},{"t":2,"v":0.2,"s":"9 µM stirred"},{"t":3,"v":0.7,"s":"9 µM stirred"},{"t":4,"v":1.7,"s":"9 µM stirred"},{"t":5,"v":2.9,"s":"9 µM stirred"},{"t":6,"v":4.2,"s":"9 µM stirred"},{"t":7,"v":5.2,"s":"9 µM stirred"},{"t":7.5,"v":5.9,"s":"9 µM stirred"},{"t":8,"v":6.3,"s":"9 µM stirred"},{"t":8.5,"v":6.9,"s":"9 µM stirred"},{"t":9,"v":7.1,"s":"9 µM stirred"},{"t":9.5,"v":7.5,"s":"9 µM stirred"},{"t":10,"v":7.6,"s":"9 µM stirred"},{"t":10.5,"v":8.1,"s":"9 µM stirred"},{"t":11,"v":8.1,"s":"9 µM stirred"},{"t":11.5,"v":8.6,"s":"9 µM stirred"},{"t":12,"v":8.6,"s":"9 µM stirred"},{"t":12.5,"v":9.2,"s":"9 µM stirred"},{"t":13,"v":9.0,"s":"9 µM stirred"},{"t":13.5,"v":9.6,"s":"9 µM stirred"},{"t":14,"v":9.4,"s":"9 µM stirred"},{"t":14.5,"v":10.0,"s":"9 µM stirred"},{"t":15,"v":9.8,"s":"9 µM stirred"},{"t":15.5,"v":10.5,"s":"9 µM stirred"},{"t":16,"v":10.2,"s":"9 µM stirred"},{"t":16.5,"v":10.8,"s":"9 µM stirred"},{"t":17,"v":10.6,"s":"9 µM stirred"},{"t":17.5,"v":11.2,"s":"9 µM stirred"},{"t":18,"v":11.0,"s":"9 µM stirred"},{"t":18.5,"v":11.6,"s":"9 µM stirred"},{"t":19,"v":11.3,"s":"9 µM stirred"},{"t":19.5,"v":11.9,"s":"9 µM stirred"},{"t":20,"v":11.7,"s":"9 µM stirred"},{"t":21,"v":12.2,"s":"9 µM stirred"},{"t":21.5,"v":12.0,"s":"9 µM stirred"},{"t":22,"v":12.7,"s":"9 µM stirred"},{"t":22.5,"v":12.4,"s":"9 µM stirred"},{"t":23,"v":13.0,"s":"9 µM stirred"},{"t":23.5,"v":12.7,"s":"9 µM stirred"},{"t":24,"v":13.3,"s":"9 µM stirred"},{"t":24.5,"v":13.0,"s":"9 µM stirred"},{"t":25,"v":13.7,"s":"9 µM stirred"},{"t":25.5,"v":13.3,"s":"9 µM stirred"},{"t":26,"v":14.1,"s":"9 µM stirred"},{"t":26.5,"v":13.6,"s":"9 µM stirred"},{"t":27,"v":14.4,"s":"9 µM stirred"},{"t":27.5,"v":13.9,"s":"9 µM stirred"},{"t":28,"v":14.6,"s":"9 µM stirred"},{"t":28.5,"v":14.2,"s":"9 µM stirred"},{"t":29,"v":14.9,"s":"9 µM stirred"},{"t":29.5,"v":14.4,"s":"9 µM stirred"},{"t":30,"v":15.0,"s":"9 µM stirred"},{"t":30.5,"v":14.7,"s":"9 µM stirred"},{"t":31,"v":15.4,"s":"9 µM stirred"},{"t":31.5,"v":14.9,"s":"9 µM stirred"},{"t":32,"v":15.7,"s":"9 µM stirred"},{"t":32.5,"v":15.3,"s":"9 µM stirred"},{"t":33,"v":16.2,"s":"9 µM stirred"},{"t":33.5,"v":15.6,"s":"9 µM stirred"},{"t":34,"v":16.8,"s":"9 µM stirred"},{"t":34.5,"v":16.2,"s":"9 µM stirred"},{"t":35,"v":17.6,"s":"9 µM stirred"},
{"t":0,"v":0,"s":"6 µM stirred"},{"t":2,"v":0.2,"s":"6 µM stirred"},{"t":3,"v":0.6,"s":"6 µM stirred"},{"t":4,"v":1.3,"s":"6 µM stirred"},{"t":5,"v":2.1,"s":"6 µM stirred"},{"t":6,"v":2.8,"s":"6 µM stirred"},{"t":7,"v":3.3,"s":"6 µM stirred"},{"t":8,"v":3.7,"s":"6 µM stirred"},{"t":9,"v":4.1,"s":"6 µM stirred"},{"t":10,"v":4.3,"s":"6 µM stirred"},{"t":11,"v":4.6,"s":"6 µM stirred"},{"t":12,"v":4.8,"s":"6 µM stirred"},{"t":13,"v":5.1,"s":"6 µM stirred"},{"t":14,"v":5.2,"s":"6 µM stirred"},{"t":15,"v":5.5,"s":"6 µM stirred"},{"t":16,"v":5.6,"s":"6 µM stirred"},{"t":17,"v":5.9,"s":"6 µM stirred"},{"t":18,"v":6.0,"s":"6 µM stirred"},{"t":19,"v":6.3,"s":"6 µM stirred"},{"t":20,"v":6.3,"s":"6 µM stirred"},{"t":21,"v":6.6,"s":"6 µM stirred"},{"t":22,"v":6.6,"s":"6 µM stirred"},{"t":23,"v":6.9,"s":"6 µM stirred"},{"t":24,"v":7.0,"s":"6 µM stirred"},{"t":25,"v":7.2,"s":"6 µM stirred"},{"t":26,"v":7.3,"s":"6 µM stirred"},{"t":27,"v":7.5,"s":"6 µM stirred"},{"t":28,"v":7.6,"s":"6 µM stirred"},{"t":29,"v":7.9,"s":"6 µM stirred"},{"t":30,"v":7.8,"s":"6 µM stirred"},{"t":31,"v":8.2,"s":"6 µM stirred"},{"t":32,"v":8.1,"s":"6 µM stirred"},{"t":33,"v":8.5,"s":"6 µM stirred"},{"t":34,"v":8.4,"s":"6 µM stirred"},{"t":35,"v":8.9,"s":"6 µM stirred"},
{"t":0,"v":0,"s":"3 µM stirred"},{"t":2,"v":0.05,"s":"3 µM stirred"},{"t":4,"v":0.3,"s":"3 µM stirred"},{"t":6,"v":0.5,"s":"3 µM stirred"},{"t":8,"v":0.7,"s":"3 µM stirred"},{"t":10,"v":0.85,"s":"3 µM stirred"},{"t":12,"v":1.0,"s":"3 µM stirred"},{"t":14,"v":1.2,"s":"3 µM stirred"},{"t":16,"v":1.35,"s":"3 µM stirred"},{"t":18,"v":1.45,"s":"3 µM stirred"},{"t":20,"v":1.6,"s":"3 µM stirred"},{"t":22,"v":1.75,"s":"3 µM stirred"},{"t":24,"v":1.85,"s":"3 µM stirred"},{"t":26,"v":2.0,"s":"3 µM stirred"},{"t":28,"v":2.1,"s":"3 µM stirred"},{"t":30,"v":2.2,"s":"3 µM stirred"},{"t":32,"v":2.35,"s":"3 µM stirred"},{"t":34,"v":2.45,"s":"3 µM stirred"},{"t":35,"v":2.5,"s":"3 µM stirred"}
],
"du":[
{"t":0,"v":0,"s":"12 µM\u00a0 unstirred"},{"t":1,"v":0.05,"s":"12 µM\u00a0 unstirred"},{"t":2,"v":0.3,"s":"12 µM\u00a0 unstirred"},{"t":2.5,"v":0.6,"s":"12 µM\u00a0 unstirred"},{"t":3,"v":1.1,"s":"12 µM\u00a0 unstirred"},{"t":4,"v":2.4,"s":"12 µM\u00a0 unstirred"},{"t":5,"v":3.9,"s":"12 µM\u00a0 unstirred"},{"t":6,"v":5.3,"s":"12 µM\u00a0 unstirred"},{"t":7,"v":6.5,"s":"12 µM\u00a0 unstirred"},{"t":8,"v":7.6,"s":"12 µM\u00a0 unstirred"},{"t":9,"v":8.6,"s":"12 µM\u00a0 unstirred"},{"t":10,"v":9.5,"s":"12 µM\u00a0 unstirred"},{"t":11,"v":10.4,"s":"12 µM\u00a0 unstirred"},{"t":12,"v":11.1,"s":"12 µM\u00a0 unstirred"},{"t":13,"v":11.8,"s":"12 µM\u00a0 unstirred"},{"t":14,"v":12.6,"s":"12 µM\u00a0 unstirred"},{"t":15,"v":13.3,"s":"12 µM\u00a0 unstirred"},{"t":16,"v":13.9,"s":"12 µM\u00a0 unstirred"},{"t":17,"v":14.5,"s":"12 µM\u00a0 unstirred"},{"t":18,"v":15.1,"s":"12 µM\u00a0 unstirred"},{"t":19,"v":15.7,"s":"12 µM\u00a0 unstirred"},{"t":20,"v":16.3,"s":"12 µM\u00a0 unstirred"},{"t":22,"v":17.4,"s":"12 µM\u00a0 unstirred"},{"t":24,"v":18.6,"s":"12 µM\u00a0 unstirred"},{"t":26,"v":19.8,"s":"12 µM\u00a0 unstirred"},{"t":28,"v":20.8,"s":"12 µM\u00a0 unstirred"},{"t":30,"v":21.7,"s":"12 µM\u00a0 unstirred"},{"t":32,"v":22.6,"s":"12 µM\u00a0 unstirred"},{"t":33,"v":23.1,"s":"12 µM\u00a0 unstirred"},{"t":34,"v":23.6,"s":"12 µM\u00a0 unstirred"},{"t":35,"v":24.1,"s":"12 µM\u00a0 unstirred"},
{"t":0,"v":0,"s":"9 µM\u00a0 unstirred"},{"t":2,"v":0.2,"s":"9 µM\u00a0 unstirred"},{"t":3,"v":0.6,"s":"9 µM\u00a0 unstirred"},{"t":4,"v":1.6,"s":"9 µM\u00a0 unstirred"},{"t":5,"v":2.8,"s":"9 µM\u00a0 unstirred"},{"t":6,"v":3.8,"s":"9 µM\u00a0 unstirred"},{"t":7,"v":4.7,"s":"9 µM\u00a0 unstirred"},{"t":8,"v":5.4,"s":"9 µM\u00a0 unstirred"},{"t":9,"v":6.0,"s":"9 µM\u00a0 unstirred"},{"t":10,"v":6.6,"s":"9 µM\u00a0 unstirred"},{"t":11,"v":7.1,"s":"9 µM\u00a0 unstirred"},{"t":12,"v":7.6,"s":"9 µM\u00a0 unstirred"},{"t":13,"v":8.0,"s":"9 µM\u00a0 unstirred"},{"t":14,"v":8.4,"s":"9 µM\u00a0 unstirred"},{"t":15,"v":8.8,"s":"9 µM\u00a0 unstirred"},{"t":16,"v":9.1,"s":"9 µM\u00a0 unstirred"},{"t":17,"v":9.5,"s":"9 µM\u00a0 unstirred"},{"t":18,"v":9.8,"s":"9 µM\u00a0 unstirred"},{"t":19,"v":10.0,"s":"9 µM\u00a0 unstirred"},{"t":20,"v":10.2,"s":"9 µM\u00a0 unstirred"},{"t":22,"v":10.9,"s":"9 µM\u00a0 unstirred"},{"t":24,"v":11.6,"s":"9 µM\u00a0 unstirred"},{"t":26,"v":12.3,"s":"9 µM\u00a0 unstirred"},{"t":28,"v":12.8,"s":"9 µM\u00a0 unstirred"},{"t":30,"v":13.4,"s":"9 µM\u00a0 unstirred"},{"t":32,"v":14.0,"s":"9 µM\u00a0 unstirred"},{"t":34,"v":14.6,"s":"9 µM\u00a0 unstirred"},{"t":35,"v":15.0,"s":"9 µM\u00a0 unstirred"},
{"t":0,"v":0,"s":"6 µM\u00a0 unstirred"},{"t":2,"v":0.2,"s":"6 µM\u00a0 unstirred"},{"t":3,"v":0.6,"s":"6 µM\u00a0 unstirred"},{"t":4,"v":1.3,"s":"6 µM\u00a0 unstirred"},{"t":5,"v":2.0,"s":"6 µM\u00a0 unstirred"},{"t":6,"v":2.5,"s":"6 µM\u00a0 unstirred"},{"t":7,"v":3.0,"s":"6 µM\u00a0 unstirred"},{"t":8,"v":3.4,"s":"6 µM\u00a0 unstirred"},{"t":9,"v":3.7,"s":"6 µM\u00a0 unstirred"},{"t":10,"v":4.0,"s":"6 µM\u00a0 unstirred"},{"t":12,"v":4.5,"s":"6 µM\u00a0 unstirred"},{"t":14,"v":5.0,"s":"6 µM\u00a0 unstirred"},{"t":16,"v":5.4,"s":"6 µM\u00a0 unstirred"},{"t":18,"v":5.8,"s":"6 µM\u00a0 unstirred"},{"t":20,"v":6.1,"s":"6 µM\u00a0 unstirred"},{"t":22,"v":6.4,"s":"6 µM\u00a0 unstirred"},{"t":24,"v":6.8,"s":"6 µM\u00a0 unstirred"},{"t":26,"v":7.1,"s":"6 µM\u00a0 unstirred"},{"t":28,"v":7.4,"s":"6 µM\u00a0 unstirred"},{"t":30,"v":7.6,"s":"6 µM\u00a0 unstirred"},{"t":32,"v":7.8,"s":"6 µM\u00a0 unstirred"},{"t":34,"v":8.0,"s":"6 µM\u00a0 unstirred"},{"t":35,"v":8.1,"s":"6 µM\u00a0 unstirred"},
{"t":0,"v":0,"s":"3 µM\u00a0 unstirred"},{"t":2,"v":0.05,"s":"3 µM\u00a0 unstirred"},{"t":4,"v":0.3,"s":"3 µM\u00a0 unstirred"},{"t":6,"v":0.5,"s":"3 µM\u00a0 unstirred"},{"t":8,"v":0.7,"s":"3 µM\u00a0 unstirred"},{"t":10,"v":0.85,"s":"3 µM\u00a0 unstirred"},{"t":12,"v":1.0,"s":"3 µM\u00a0 unstirred"},{"t":14,"v":1.2,"s":"3 µM\u00a0 unstirred"},{"t":16,"v":1.35,"s":"3 µM\u00a0 unstirred"},{"t":18,"v":1.45,"s":"3 µM\u00a0 unstirred"},{"t":20,"v":1.6,"s":"3 µM\u00a0 unstirred"},{"t":22,"v":1.75,"s":"3 µM\u00a0 unstirred"},{"t":24,"v":1.85,"s":"3 µM\u00a0 unstirred"},{"t":26,"v":2.0,"s":"3 µM\u00a0 unstirred"},{"t":28,"v":2.1,"s":"3 µM\u00a0 unstirred"},{"t":30,"v":2.2,"s":"3 µM\u00a0 unstirred"},{"t":32,"v":2.35,"s":"3 µM\u00a0 unstirred"},{"t":34,"v":2.45,"s":"3 µM\u00a0 unstirred"},{"t":35,"v":2.5,"s":"3 µM\u00a0 unstirred"}
]
},
"concat":[
{
"width":295,"height":294,
"title":{"text":"A","dx":3,"dy":35},
"layer":[
{"data":{"name":"a"},"mark":{"type":"line","strokeWidth":1},
"encoding":{
"x":{"field":"t","type":"quantitative","scale":{"domain":[0,700],"nice":false},"axis":{"values":[0,100,200,300,400,500,600,700],"title":"Time (min)"}},
"y":{"field":"v","type":"quantitative","scale":{"domain":[6,9.5],"nice":false,"zero":false},"axis":{"values":[6,6.5,7,7.5,8,8.5,9,9.5],"format":".1f","title":"ThT fluorescence"}},
"color":{"field":"s","type":"nominal","scale":{"domain":["r","b","g"],"range":["#e02424","#2424e0","#207820"]},
"legend":{"offset":6,"padding":6,"rowPadding":5,"labelExpr":"datum.value=='r' ? '0.3 µM' : datum.value=='b' ? '0.5 µM' : '0.8 µM'","encode":{"labels":{"update":{"fill":{"signal":"datum.value=='r' ? '#d42020' : datum.value=='b' ? '#2020c0' : '#1e6b1e'"}}}}}}
}},
{"data":{"name":"afit"},"mark":{"type":"line","strokeWidth":1,"color":"#8a1c1c"},
"encoding":{
"x":{"field":"t","type":"quantitative","axis":{"orient":"top","labels":false,"title":null,"domain":false,"values":[0,100,200,300,400,500,600,700]}},
"y":{"field":"v","type":"quantitative","axis":{"orient":"right","labels":false,"title":null,"domain":false,"values":[6,6.5,7,7.5,8,8.5,9,9.5]}},
"detail":{"field":"s"}}}
],
"resolve":{"axis":{"x":"independent","y":"independent"}}
},
{
"width":295,"height":294,
"title":{"text":"B","dx":-28,"dy":35},
"layer":[
{"data":{"name":"b"},"mark":{"type":"line","strokeWidth":1},
"encoding":{
"x":{"field":"t","type":"quantitative","scale":{"domain":[0,60],"nice":false},"axis":{"values":[0,10,20,30,40,50,60],"title":"Time (min)"}},
"y":{"field":"v","type":"quantitative","scale":{"domain":[5,30],"nice":false,"zero":false},"axis":{"values":[5,10,15,20,25,30],"title":"ThT fluorescence"}},
"color":{"field":"s","type":"nominal","scale":{"domain":["1 µM","2 µM","3 µM","4 µM"],"range":["#e04848","#4040d0","#3a8a3a","#444444"]},
"legend":{"offset":6,"padding":5,"rowPadding":0.5,"encode":{"labels":{"update":{"fill":{"signal":"indexof(datum.value,'1 ')==0 ? '#d42020' : indexof(datum.value,'2 ')==0 ? '#2020c0' : indexof(datum.value,'3 ')==0 ? '#1e6b1e' : '#000000'"}}}}}}
}},
{"data":{"name":"bfit"},"mark":{"type":"line","strokeWidth":1,"color":"#c03a4a"},
"encoding":{
"x":{"field":"t","type":"quantitative","axis":{"orient":"top","labels":false,"title":null,"domain":false,"values":[0,10,20,30,40,50,60]}},
"y":{"field":"v","type":"quantitative","axis":{"orient":"right","labels":false,"title":null,"domain":false,"values":[5,10,15,20,25,30]}},
"detail":{"field":"s"}}}
],
"resolve":{"axis":{"x":"independent","y":"independent"}}
},
{
"width":295,"height":294,
"title":{"text":"C","dx":3,"offset":4},
"layer":[
{"data":{"name":"c"},"mark":{"type":"line","strokeWidth":1},
"encoding":{
"x":{"field":"t","type":"quantitative","scale":{"domain":[0,60],"nice":false},"axis":{"values":[0,10,20,30,40,50,60],"title":"Time (min)"}},
"y":{"field":"v","type":"quantitative","scale":{"domain":[0,100],"nice":false},"axis":{"values":[0,20,40,60,80,100],"title":"ThT fluorescence"}},
"color":{"field":"s","type":"nominal","scale":{"domain":["3 µM","6 µM","9 µM","12 µM"],"range":["#e04848","#4040d0","#3a8a3a","#444444"]},
"legend":{"offset":7,"padding":5,"rowPadding":0.5,"encode":{"labels":{"update":{"fill":{"signal":"indexof(datum.value,'3 ')==0 ? '#d42020' : indexof(datum.value,'6 ')==0 ? '#2020c0' : indexof(datum.value,'9 ')==0 ? '#1e6b1e' : '#000000'"}}}}}}
}},
{"data":{"name":"cfit"},"mark":{"type":"line","strokeWidth":1,"color":"#a83040"},
"encoding":{
"x":{"field":"t","type":"quantitative","axis":{"orient":"top","labels":false,"title":null,"domain":false,"values":[0,10,20,30,40,50,60]}},
"y":{"field":"v","type":"quantitative","axis":{"orient":"right","labels":false,"title":null,"domain":false,"values":[0,20,40,60,80,100]}},
"detail":{"field":"s"}}}
],
"resolve":{"axis":{"x":"independent","y":"independent"}}
},
{
"width":295,"height":294,
"title":{"text":"D","dx":-28,"offset":4},
"layer":[
{"data":{"name":"ds"},"mark":{"type":"line","strokeWidth":0.8},
"encoding":{
"x":{"field":"t","type":"quantitative","scale":{"domain":[0,35],"nice":false},"axis":{"values":[0,5,10,15,20,25,30,35],"title":"Time (min)"}},
"y":{"field":"v","type":"quantitative","scale":{"domain":[-5,35],"nice":false,"zero":false},"axis":{"values":[-5,0,5,10,15,20,25,30,35],"title":"ThT fluorescence"}},
"color":{"field":"s","type":"nominal","scale":{"domain":["3 µM stirred","6 µM stirred","9 µM stirred","12 µM\u00a0 stirred","3 µM\u00a0 unstirred","6 µM\u00a0 unstirred","9 µM\u00a0 unstirred","12 µM\u00a0 unstirred"],"range":["#e06060","#5050d8","#3a8a3a","#555555","#e01414","#1414d0","#1a6b1a","#000000"]},
"legend":{"offset":0,"padding":5,"rowPadding":0.4,"labelFontSize":11.5,"encode":{
"symbols":{"update":{"strokeWidth":{"value":1},"shape":{"signal":"indexof(datum.value,'unstirred')>=0 ? 'M-1,0H1M0.1,0A0.1,0.1,0,1,1,-0.1,0A0.1,0.1,0,1,1,0.1,0' : 'stroke'"},"fill":{"signal":"indexof(datum.value,'unstirred')<0 ? 'transparent' : indexof(datum.value,'3 ')==0 ? '#e01414' : indexof(datum.value,'6 ')==0 ? '#1414d0' : indexof(datum.value,'9 ')==0 ? '#1a6b1a' : '#000000'"}}},
"labels":{"update":{"fill":{"signal":"indexof(datum.value,'3 ')==0 ? '#d42020' : indexof(datum.value,'6 ')==0 ? '#2020c0' : indexof(datum.value,'9 ')==0 ? '#1e6b1e' : '#000000'"}}}}}}
}},
{"data":{"name":"du"},"mark":{"type":"line","strokeWidth":5.5,"strokeCap":"round","strokeJoin":"round"},
"encoding":{
"x":{"field":"t","type":"quantitative","axis":{"orient":"top","labels":false,"title":null,"domain":false,"values":[0,5,10,15,20,25,30,35]}},
"y":{"field":"v","type":"quantitative","axis":{"orient":"right","labels":false,"title":null,"domain":false,"values":[-5,0,5,10,15,20,25,30,35]}},
"color":{"field":"s","type":"nominal"}}}
],
"resolve":{"axis":{"x":"independent","y":"independent"}}
}
],
"resolve":{"scale":{"x":"independent","y":"independent","color":"independent"},"legend":{"color":"independent"}},
"config":{
"font":"Liberation Sans",
"view":{"stroke":"#a0a0a0","strokeWidth":1},
"title":{"anchor":"start","frame":"bounds","fontSize":31,"fontWeight":"normal","font":"Liberation Sans","color":"#000000"},
"axis":{"grid":false,"domainColor":"#a0a0a0","tickColor":"#909090","tickSize":-5,"labelFont":"Liberation Sans","labelFontSize":14,"labelColor":"#000000","titleFont":"Liberation Sans","titleFontSize":19,"titleFontWeight":"normal","titleColor":"#000000"},
"axisBottom":{"labelPadding":8,"titleX":147.5,"titleY":31},
"axisLeft":{"labelPadding":13,"titleX":-53,"titleY":147},
"legend":{"orient":"top-left","title":null,"strokeColor":"#000000","strokeWidth":1.3,"fillColor":"#ffffff","labelFont":"Liberation Sans","labelFontSize":12,"symbolType":"stroke","symbolSize":900,"symbolStrokeWidth":1,"clipHeight":12,"labelOffset":3,"symbolOpacity":1}
}
}
